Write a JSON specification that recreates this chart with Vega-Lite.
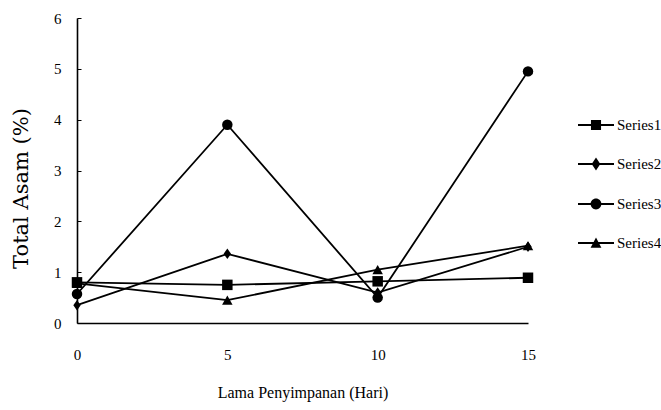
{
  "$schema": "https://vega.github.io/schema/vega-lite/v6.json",
  "width": 451,
  "height": 305,
  "autosize": {"type": "none"},
  "padding": {"left": 77, "top": 18, "right": 133, "bottom": 87},
  "background": "white",
  "config": {
    "view": {"stroke": null},
    "font": "Liberation Serif",
    "axis": {"grid": false, "domainColor": "black", "domainWidth": 1.6, "tickColor": "black", "labelColor": "black", "titleColor": "black", "labelFontSize": 15, "titleFontWeight": "normal"}
  },
  "data": {
    "values": [
      {"hari": 0, "series": "Series1", "total": 0.8},
      {"hari": 5, "series": "Series1", "total": 0.75},
      {"hari": 10, "series": "Series1", "total": 0.82},
      {"hari": 15, "series": "Series1", "total": 0.89},
      {"hari": 0, "series": "Series2", "total": 0.35},
      {"hari": 5, "series": "Series2", "total": 1.36},
      {"hari": 10, "series": "Series2", "total": 0.6},
      {"hari": 15, "series": "Series2", "total": 1.5},
      {"hari": 0, "series": "Series3", "total": 0.57},
      {"hari": 5, "series": "Series3", "total": 3.9},
      {"hari": 10, "series": "Series3", "total": 0.5},
      {"hari": 15, "series": "Series3", "total": 4.95},
      {"hari": 0, "series": "Series4", "total": 0.78},
      {"hari": 5, "series": "Series4", "total": 0.45},
      {"hari": 10, "series": "Series4", "total": 1.05},
      {"hari": 15, "series": "Series4", "total": 1.52}
    ]
  },
  "encoding": {
    "x": {
      "field": "hari", "type": "quantitative",
      "scale": {"domain": [0, 15], "nice": false, "zero": false},
      "axis": {"values": [0, 5, 10, 15], "ticks": false, "labelPadding": 24, "labelFont": "Liberation Serif", "title": "Lama Penyimpanan (Hari)", "titleFont": "Liberation Serif", "titleFontSize": 16, "titlePadding": 22, "labelFlush": false}
    },
    "y": {
      "field": "total", "type": "quantitative",
      "scale": {"domain": [0, 6], "nice": false},
      "axis": {"values": [0, 1, 2, 3, 4, 5, 6], "tickSize": -4, "labelPadding": 20, "labelFont": "Liberation Serif", "title": "Total Asam (%)", "titleFont": "DejaVu Serif", "titleFontSize": 21, "titleX": -56, "titleY": 170, "titleBaseline": "middle", "titleAlign": "center", "titleAngle": -90}
    }
  },
  "layer": [
    {
      "mark": {"type": "line", "color": "black", "strokeWidth": 1.8},
      "encoding": {"detail": {"field": "series"}}
    },
    {
      "mark": {"type": "point", "filled": true, "color": "black", "opacity": 1},
      "encoding": {
        "shape": {
          "field": "series", "type": "nominal",
          "scale": {"domain": ["Series1", "Series2", "Series3", "Series4"], "range": ["square", "M0,-1L0.7,0L0,1L-0.7,0Z", "circle", "triangle-up"]},
          "legend": null
        },
        "size": {"value": 110}
      }
    },
    {
      "mark": {"type": "point", "filled": true, "color": "black", "opacity": 0},
      "encoding": {
        "shape": {
          "field": "series", "type": "nominal",
          "scale": {"domain": ["Series1", "Series2", "Series3", "Series4"], "range": [
            "M-1,-0.06H1V0.06H-1ZM-0.28,-0.28H0.28V0.28H-0.28Z",
            "M-1,-0.06H1V0.06H-1ZM0,-0.36L0.24,0L0,0.36L-0.24,0Z",
            "M-1,-0.06H1V0.06H-1ZM-0.3,0A0.3,0.3,0,1,1,0.3,0A0.3,0.3,0,1,1,-0.3,0Z",
            "M-1,-0.06H1V0.06H-1ZM0,-0.3L0.3,0.26H-0.3Z"
          ]},
          "legend": {
            "title": null, "orient": "none", "legendX": 500, "legendY": 88,
            "symbolSize": 1296, "symbolFillColor": "black", "symbolOpacity": 1,
            "labelFont": "Liberation Serif", "labelFontSize": 15, "labelColor": "black", "labelOffset": 2, "rowPadding": 11,
            "encode": {"symbols": {"update": {"fill": {"value": "black"}, "opacity": {"value": 1}, "fillOpacity": {"value": 1}}}}
          }
        },
        "size": {"value": 1}
      }
    }
  ],
  "resolve": {"scale": {"shape": "independent"}}
}
